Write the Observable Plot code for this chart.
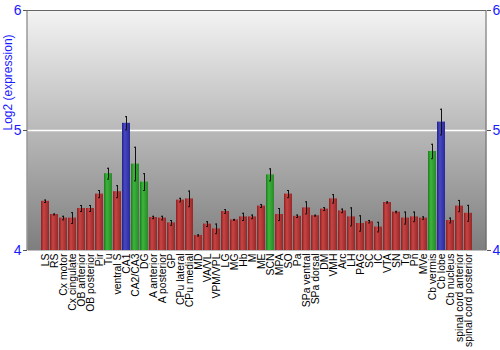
<!DOCTYPE html>
<html><head><meta charset="utf-8">
<script src="https://cdn.jsdelivr.net/npm/d3@7"></script>
<script src="https://cdn.jsdelivr.net/npm/@observablehq/plot@0.6"></script>
<style>body{margin:0;background:#fff;font-family:"Liberation Sans",Arial,sans-serif;}</style>
</head><body><div id="chart"></div>
<script>
const regions = ["LS","RS","Cx motor","Cx cingulate","OB anterior","OB posterior","Pir","Tu","ventral S","CA1","CA2/CA3","DG","A anterior","A posterior","GP","CPu lateral","CPu medial","MD","VA/VL","VPM/VPL","LG","MG","Hb","M","ME","SCN","MPA","SO","Pa","SPa ventral","SPa dorsal","DM","VMH","Arc","LH","PAG","SC","IC","VTA","SN","Tg","Pn","MVe","Cb vermis","Cb lobe","Cb nucleus","spinal cord anterior","spinal cord posterior"];
const values = [4.41,4.30,4.27,4.27,4.35,4.35,4.47,4.64,4.49,5.06,4.72,4.57,4.275,4.27,4.23,4.42,4.43,4.125,4.22,4.18,4.325,4.255,4.28,4.28,4.37,4.63,4.30,4.47,4.285,4.355,4.29,4.345,4.43,4.33,4.28,4.225,4.24,4.195,4.40,4.32,4.27,4.28,4.27,4.825,5.07,4.25,4.37,4.31];
const errors = [0.01,0.004,0.015,0.045,0.025,0.025,0.03,0.045,0.05,0.055,0.14,0.07,0.01,0.015,0.02,0.015,0.065,0.005,0.02,0.04,0.015,0.004,0.03,0.015,0.012,0.05,0.05,0.03,0.01,0.05,0.004,0.012,0.035,0.015,0.075,0.064,0.01,0.04,0.005,0.006,0.05,0.04,0.01,0.06,0.107,0.02,0.047,0.066];
const groups = ["r","r","r","r","r","r","r","g","r","b","g","g","r","r","r","r","r","r","r","r","r","r","r","r","r","g","r","r","r","r","r","r","r","r","r","r","r","r","r","r","r","r","r","g","b","r","r","r"];
const yTicks = [4, 5, 6];

const data = regions.map((name, i) => ({name, value: values[i], err: errors[i], group: groups[i]}));

function defs() {
  const g = document.createElementNS("http://www.w3.org/2000/svg", "g");
  const grad = (id, a, b, c) => `<linearGradient id="${id}" x1="0" x2="1" y1="0" y2="0"><stop offset="0" stop-color="${a}"/><stop offset="0.35" stop-color="${b}"/><stop offset="1" stop-color="${c}"/></linearGradient>`;
  g.innerHTML = `<defs>
    <linearGradient id="bg" x1="0" x2="0" y1="0" y2="1"><stop offset="0" stop-color="#f3f3f3"/><stop offset="1" stop-color="#7e7e7e"/></linearGradient>
    ${grad("gr","#8a2020","#c84444","#962828")}
    ${grad("gg","#1e7a1e","#3cb43c","#288a28")}
    ${grad("gb","#22228a","#4848c4","#2a2a96")}
  </defs>`;
  return g;
}

const fills = {r: "url(#gr)", g: "url(#gg)", b: "url(#gb)"};
const blue = "#1a1aff";

const plot = Plot.plot({
  width: 500,
  height: 350,
  marginTop: 10,
  marginBottom: 100,
  marginLeft: 27,
  marginRight: 14,
  style: {fontFamily: "Liberation Sans, Arial, sans-serif", background: "white"},
  x: {domain: regions, paddingInner: 0.14, paddingOuter: 0.05, label: null},
  y: {domain: [4, 6], label: null},
  marks: [
    defs,
    Plot.frame({fill: "url(#bg)", stroke: null}),
    Plot.ruleY([5], {stroke: "white", strokeWidth: 1.5}),
    ...["r","g","b"].map(k => Plot.barY(data, {filter: d => d.group === k, x: "name", y1: 4, y2: "value", fill: fills[k]})),
    Plot.ruleX(data, {x: "name", y1: d => d.value - d.err, y2: d => d.value + d.err, stroke: "#111", strokeWidth: 1}),
    Plot.tickY(data, {x: "name", y: d => d.value - d.err, stroke: "#111", insetLeft: 3, insetRight: 3}),
    Plot.tickY(data, {x: "name", y: d => d.value + d.err, stroke: "#111", insetLeft: 3, insetRight: 3}),
    Plot.ruleY([6], {stroke: "#666"}),
    Plot.axisY({anchor: "left", ticks: yTicks, tickFormat: d3.format("d"), tickSize: 4, tickPadding: 2, fontSize: 14, color: blue, stroke: "#555", label: null}),
    Plot.axisY({anchor: "right", ticks: yTicks, tickFormat: d3.format("d"), tickSize: 4, tickPadding: 2, fontSize: 14, color: blue, stroke: "#555", label: null}),
    Plot.axisX({tickRotate: -90, tickSize: 0, tickPadding: 3, fontSize: 10.4, color: "#000", label: null}),
    Plot.text(["Log2 (expression)"], {frameAnchor: "left", dx: -19, rotate: -90, fontSize: 12, fill: blue})
  ]
});

const svg = d3.select(plot);
svg.append("line").attr("x1", 27).attr("x2", 27).attr("y1", 10).attr("y2", 250).attr("stroke", "#666");
svg.append("line").attr("x1", 486).attr("x2", 486).attr("y1", 10).attr("y2", 250).attr("stroke", "#666");
document.getElementById("chart").appendChild(plot);
</script>
</body></html>
